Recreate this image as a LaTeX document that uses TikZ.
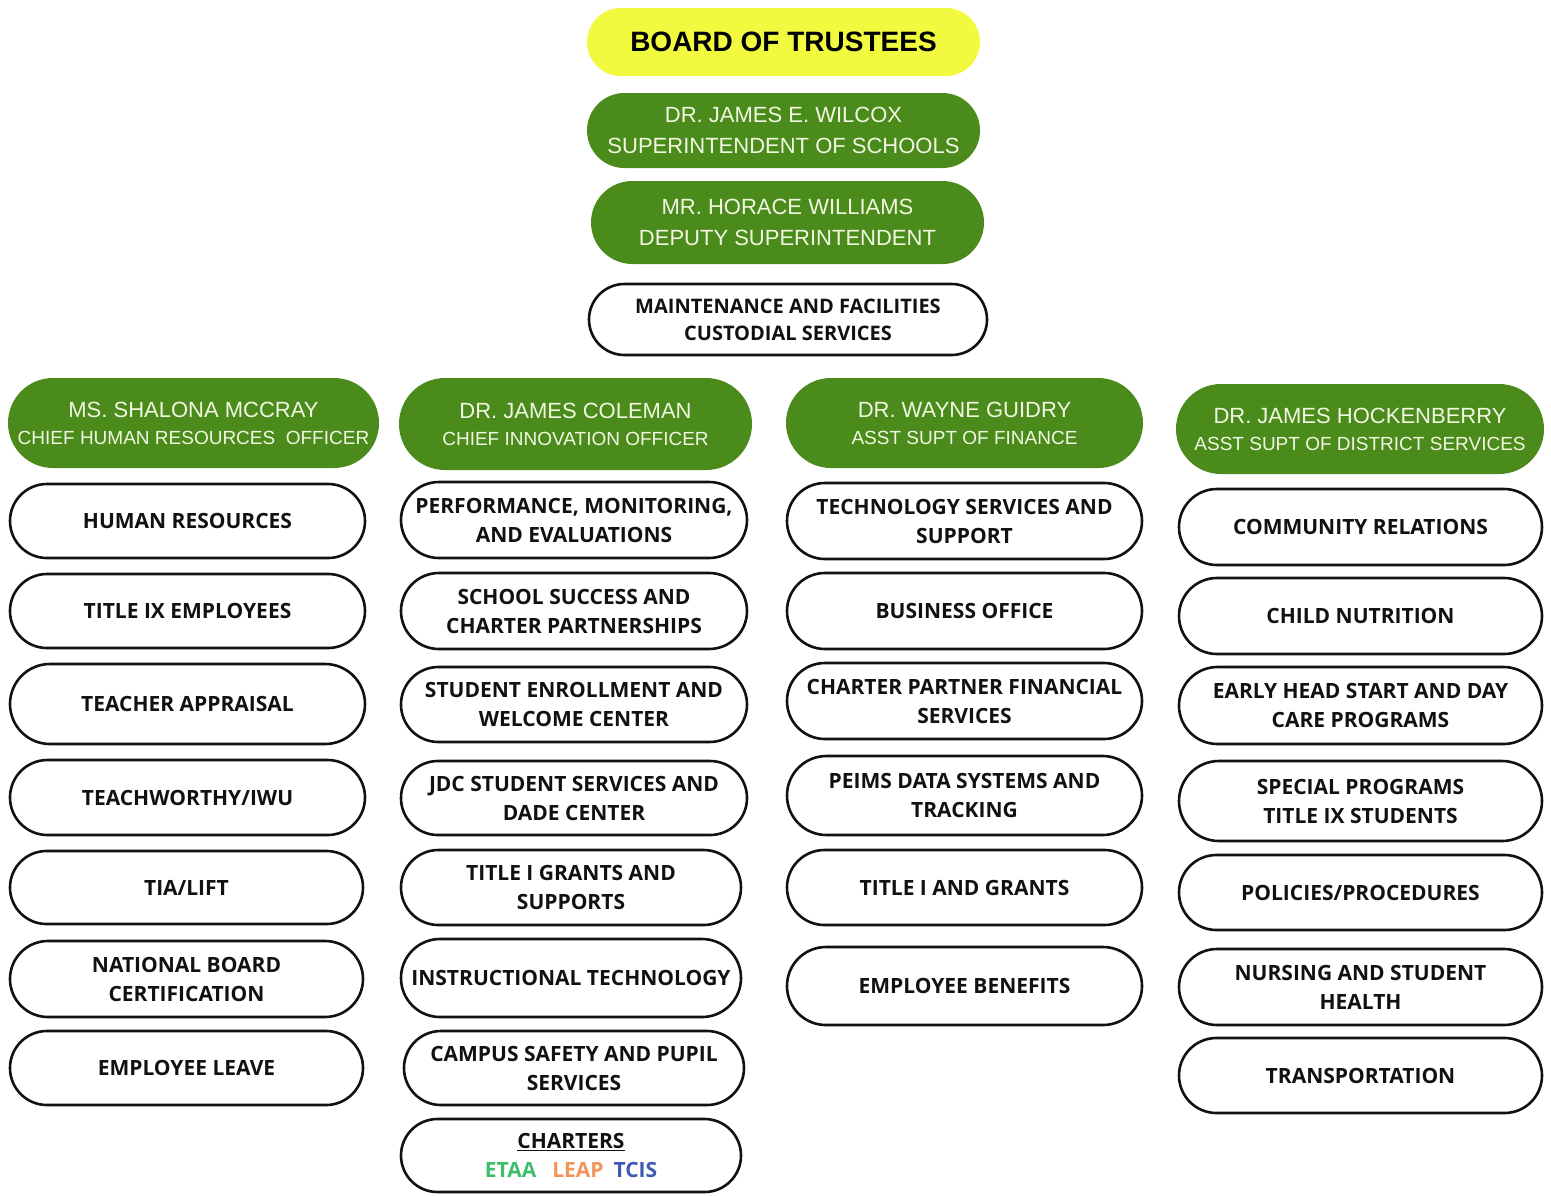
\documentclass[tikz,border=0pt]{standalone}
\usepackage{fontspec}
\newfontfamily\headfont{Liberation Sans}
\newfontfamily\unitfont{Open Sans}
\definecolor{boardyellow}{HTML}{F2FA40}
\definecolor{leadgreen}{HTML}{4A8B1C}
\definecolor{leadtext}{HTML}{F2F7E1}
\definecolor{inkdark}{HTML}{111111}
\definecolor{etaagreen}{HTML}{3DBE6A}
\definecolor{leaporange}{HTML}{F4945A}
\definecolor{tcisblue}{HTML}{3D5BB5}
\tikzset{
  pillbase/.style={rectangle, inner sep=0pt, align=center},
  boardbox/.style={pillbase, fill=boardyellow, text=black,
    font=\headfont\bfseries\fontsize{28}{32}\selectfont},
  leadbox/.style={pillbase, fill=leadgreen, text=leadtext,
    font=\headfont\fontsize{22}{31}\selectfont},
  leadsub/.style={leadbox, font=\headfont\fontsize{22}{27}\selectfont},
  unitbox/.style={pillbase, draw=inkdark, line width=2.6pt, fill=white, text=inkdark,
    font=\unitfont\bfseries\fontsize{21}{29}\selectfont},
}
% \pill{style}{name}{x1}{y1}{x2}{y2}{text}: a stadium-shaped box spanning the given corners
\newcommand\pill[7]{%
  \pgfmathsetmacro\pillW{#5-#3}%
  \pgfmathsetmacro\pillH{#6-#4}%
  \pgfmathsetmacro\pillR{(#6-#4)/2-0.05}%
  \pgfmathsetmacro\pillX{(#3+#5)/2}%
  \pgfmathsetmacro\pillY{(#4+#6)/2}%
  \node[#1, minimum width=\pillW pt, minimum height=\pillH pt, rounded corners=\pillR pt]
    (#2) at (\pillX,\pillY) {#7};}
\newcommand\subline[1]{{\fontsize{19}{27}\selectfont #1}}
\begin{document}
\begin{tikzpicture}[x=1pt,y=-1pt]
\useasboundingbox[fill=white] (0,0) rectangle (1551,1195);

% leadership stack
\pill{boardbox}{board}{587}{8}{980}{76}{BOARD OF TRUSTEES}
\pill{leadbox}{supt}{587}{93}{980}{168}{DR. JAMES E. WILCOX\\SUPERINTENDENT OF SCHOOLS}
\pill{leadbox}{deputy}{591}{181}{984}{264}{MR. HORACE WILLIAMS\\DEPUTY SUPERINTENDENT}
\pill{unitbox,font=\unitfont\bfseries\fontsize{20}{27}\selectfont}{maint}{589}{284}{987}{355}{MAINTENANCE AND FACILITIES\\CUSTODIAL SERVICES}

% human resources
\pill{leadsub}{hr}{8}{378}{379}{468}{MS. SHALONA MCCRAY\\\subline{CHIEF HUMAN RESOURCES\ \ OFFICER}}
\pill{unitbox}{hr1}{10}{484}{365}{558}{HUMAN RESOURCES}
\pill{unitbox}{hr2}{10}{574}{365}{648}{TITLE IX EMPLOYEES}
\pill{unitbox}{hr3}{10}{664}{365}{744}{TEACHER APPRAISAL}
\pill{unitbox}{hr4}{10}{760}{365}{835}{TEACHWORTHY/IWU}
\pill{unitbox}{hr5}{10}{851}{363}{924}{TIA/LIFT}
\pill{unitbox}{hr6}{10}{941}{363}{1017}{NATIONAL BOARD\\CERTIFICATION}
\pill{unitbox}{hr7}{10}{1031}{363}{1105}{EMPLOYEE LEAVE}

% innovation
\pill{leadsub}{inno}{399}{378}{752}{470}{DR. JAMES COLEMAN\\\subline{CHIEF INNOVATION OFFICER}}
\pill{unitbox}{in1}{401}{482}{747}{558}{PERFORMANCE, MONITORING,\\AND EVALUATIONS}
\pill{unitbox}{in2}{401}{573}{747}{649}{SCHOOL SUCCESS AND\\CHARTER PARTNERSHIPS}
\pill{unitbox}{in3}{401}{667}{747}{742}{STUDENT ENROLLMENT AND\\WELCOME CENTER}
\pill{unitbox}{in4}{401}{761}{747}{835}{JDC STUDENT SERVICES AND\\DADE CENTER}
\pill{unitbox}{in5}{401}{850}{741}{925}{TITLE I GRANTS AND\\SUPPORTS}
\pill{unitbox}{in6}{401}{939}{741}{1017}{INSTRUCTIONAL TECHNOLOGY}
\pill{unitbox}{in7}{404}{1031}{744}{1105}{CAMPUS SAFETY AND PUPIL\\SERVICES}
\pill{unitbox}{in8}{401}{1119}{741}{1192}{\underline{CHARTERS}\\\textcolor{etaagreen}{ETAA}\hspace{16pt}\textcolor{leaporange}{LEAP}\hspace{10pt}\textcolor{tcisblue}{TCIS}}

% finance
\pill{leadsub}{fin}{786}{378}{1143}{468}{DR. WAYNE GUIDRY\\\subline{ASST SUPT OF FINANCE}}
\pill{unitbox}{fi1}{787}{483}{1142}{559}{TECHNOLOGY SERVICES AND\\SUPPORT}
\pill{unitbox}{fi2}{787}{573}{1142}{649}{BUSINESS OFFICE}
\pill{unitbox}{fi3}{787}{663}{1142}{739}{CHARTER PARTNER FINANCIAL\\SERVICES}
\pill{unitbox}{fi4}{787}{756}{1142}{835}{PEIMS DATA SYSTEMS AND\\TRACKING}
\pill{unitbox}{fi5}{787}{850}{1142}{925}{TITLE I AND GRANTS}
\pill{unitbox}{fi6}{787}{947}{1142}{1025}{EMPLOYEE BENEFITS}

% district services
\pill{leadsub}{dist}{1176}{384}{1544}{474}{DR. JAMES HOCKENBERRY\\\subline{ASST SUPT OF DISTRICT SERVICES}}
\pill{unitbox}{ds1}{1179}{489}{1542}{565}{COMMUNITY RELATIONS}
\pill{unitbox}{ds2}{1179}{578}{1542}{654}{CHILD NUTRITION}
\pill{unitbox}{ds3}{1179}{667}{1542}{744}{EARLY HEAD START AND DAY\\CARE PROGRAMS}
\pill{unitbox}{ds4}{1179}{761}{1542}{841}{SPECIAL PROGRAMS\\TITLE IX STUDENTS}
\pill{unitbox}{ds5}{1179}{855}{1542}{930}{POLICIES/PROCEDURES}
\pill{unitbox}{ds6}{1179}{949}{1542}{1025}{NURSING AND STUDENT\\HEALTH}
\pill{unitbox}{ds7}{1179}{1038}{1542}{1113}{TRANSPORTATION}
\end{tikzpicture}
\end{document}
